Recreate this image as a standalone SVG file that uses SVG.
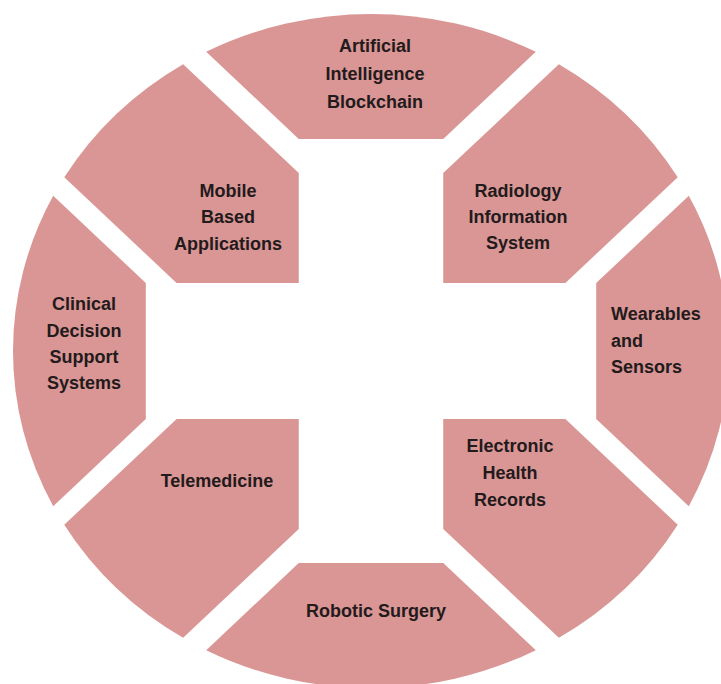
<svg xmlns="http://www.w3.org/2000/svg" width="721" height="684" viewBox="0 0 721 684">
  <style>
    .seg { fill: #D99694; stroke: none; }
    .lbl { font-family: "Liberation Sans", Arial, sans-serif; font-size: 18px; font-weight: bold; fill: #231a1c; text-anchor: middle; }
    .left { text-anchor: start; }
  </style>
  <rect x="0" y="0" width="721" height="684" fill="#ffffff"/>
  <g id="connectors"></g>
  <g id="node-artificial">
    <path class="seg" transform="translate(371 351) scale(1.0623 1)" d="M -155.16,-299.16 A 337 337 0 0 1 155.16,-299.16 L 68,-212 L -68,-212 Z"/>
    <text class="lbl" x="375" y="52">Artificial</text>
    <text class="lbl" x="375" y="80">Intelligence</text>
    <text class="lbl" x="375" y="108">Blockchain</text>
  </g>
  <g id="node-radiology">
    <path class="seg" transform="translate(371 351) scale(1.0623 1)" d="M 176.86,-286.86 A 337 337 0 0 1 288.76,-173.76 L 183,-68 L 68,-68 L 68,-178 Z"/>
    <text class="lbl" x="518" y="197">Radiology</text>
    <text class="lbl" x="518" y="223">Information</text>
    <text class="lbl" x="518" y="249">System</text>
  </g>
  <g id="node-wearables">
    <path class="seg" transform="translate(371 351) scale(1.0623 1)" d="M 299.16,-155.16 A 337 337 0 0 1 299.16,155.16 L 212,68 L 212,-68 Z"/>
    <text class="lbl left" x="611" y="320">Wearables</text>
    <text class="lbl left" x="611" y="347">and</text>
    <text class="lbl left" x="611" y="373">Sensors</text>
  </g>
  <g id="node-electronic">
    <path class="seg" transform="translate(371 351) scale(1.0623 1)" d="M 288.76,173.76 A 337 337 0 0 1 176.86,286.86 L 68,178 L 68,68 L 183,68 Z"/>
    <text class="lbl" x="510" y="452">Electronic</text>
    <text class="lbl" x="510" y="479">Health</text>
    <text class="lbl" x="510" y="506">Records</text>
  </g>
  <g id="node-robotic">
    <path class="seg" transform="translate(371 351) scale(1.0623 1)" d="M 155.16,299.16 A 337 337 0 0 1 -155.16,299.16 L -68,212 L 68,212 Z"/>
    <text class="lbl" x="376" y="617">Robotic Surgery</text>
  </g>
  <g id="node-telemedicine">
    <path class="seg" transform="translate(371 351) scale(1.0623 1)" d="M -176.86,286.86 A 337 337 0 0 1 -288.76,173.76 L -183,68 L -68,68 L -68,178 Z"/>
    <text class="lbl" x="217" y="487">Telemedicine</text>
  </g>
  <g id="node-clinical">
    <path class="seg" transform="translate(371 351) scale(1.0623 1)" d="M -299.16,155.16 A 337 337 0 0 1 -299.16,-155.16 L -212,-68 L -212,68 Z"/>
    <text class="lbl" x="84" y="310">Clinical</text>
    <text class="lbl" x="84" y="337">Decision</text>
    <text class="lbl" x="84" y="363">Support</text>
    <text class="lbl" x="84" y="389">Systems</text>
  </g>
  <g id="node-mobile">
    <path class="seg" transform="translate(371 351) scale(1.0623 1)" d="M -288.76,-173.76 A 337 337 0 0 1 -176.86,-286.86 L -68,-178 L -68,-68 L -183,-68 Z"/>
    <text class="lbl" x="228" y="197">Mobile</text>
    <text class="lbl" x="228" y="223">Based</text>
    <text class="lbl" x="228" y="250">Applications</text>
  </g>
</svg>
